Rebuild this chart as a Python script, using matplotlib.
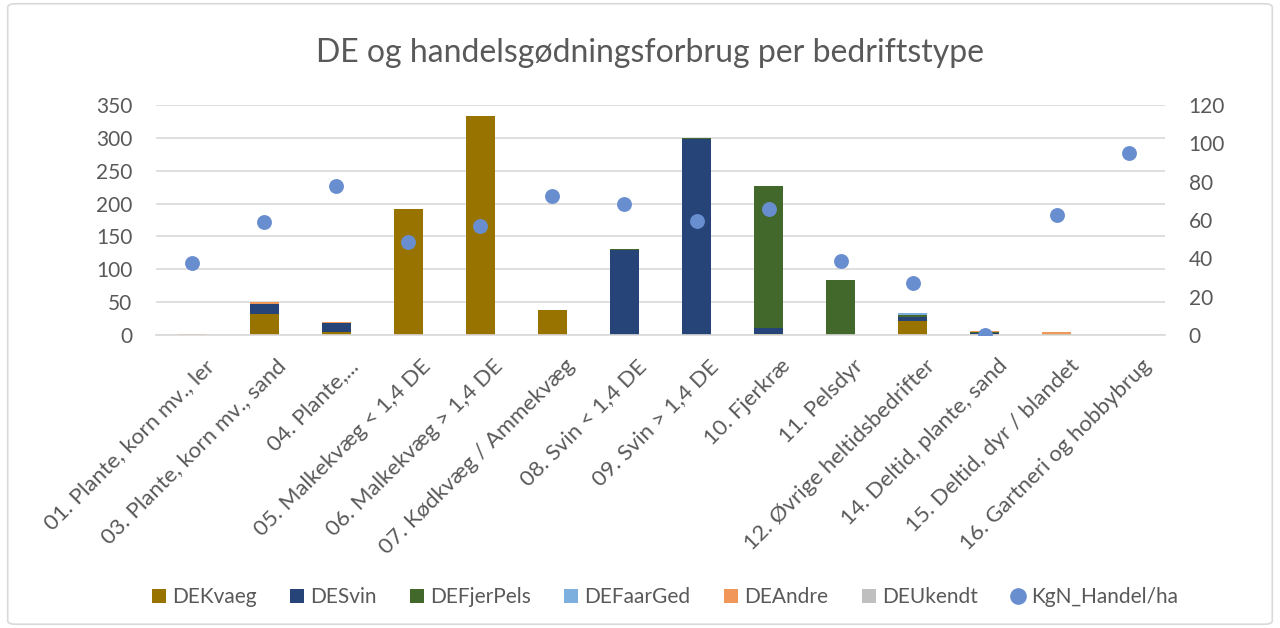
import matplotlib
matplotlib.use("Agg")
import matplotlib.pyplot as plt
import matplotlib.transforms as mtransforms
import numpy as np
from matplotlib.patches import FancyBboxPatch, Patch
from matplotlib.lines import Line2D

plt.rcParams['font.family'] = ['Lato', 'DejaVu Sans']

# categories (bedriftstype)
categories = ["01. Plante, korn mv., ler", "03. Plante, korn mv., sand", "04. Plante,...",
              "05. Malkekvæg < 1,4 DE", "06. Malkekvæg > 1,4 DE", "07. Kødkvæg / Ammekvæg",
              "08. Svin < 1,4 DE", "09. Svin > 1,4 DE", "10. Fjerkræ", "11. Pelsdyr",
              "12. Øvrige heltidsbedrifter", "14. Deltid, plante, sand",
              "15. Deltid, dyr / blandet", "16. Gartneri og hobbybrug"]

# stacked DE per type (left axis)
de_kvaeg = [0, 32, 5, 192, 333, 38, 0, 0, 1, 0, 21, 2, 2, 0]
de_svin = [0, 15, 13, 0, 0, 0, 129, 299, 9, 0, 6, 1, 0, 0]
de_fjerpels = [0, 0.5, 0, 0, 0, 0, 1.5, 1.5, 217, 83, 4, 2, 0, 0]
de_faarged = [0, 0, 0, 0, 0, 0.5, 0, 0, 0, 0, 2, 0, 0, 0]
de_andre = [1, 2.5, 1.5, 0, 0, 0, 0, 0, 0, 0.5, 0, 1, 3, 0]
de_ukendt = [0.5, 0, 0, 0, 0, 0, 0, 0, 0, 0, 0, 0, 0, 0]

# kg N handelsgødning per ha (right axis)
kgn_handel = [37.5, 59.2, 77.5, 48.7, 57.0, 72.5, 68.2, 59.6, 65.7, 38.4, 27.0, 0.0, 62.5, 95.2]

series = [("DEKvaeg", de_kvaeg, "#997300"),
          ("DESvin", de_svin, "#264478"),
          ("DEFjerPels", de_fjerpels, "#43682B"),
          ("DEFaarGed", de_faarged, "#7CAFDD"),
          ("DEAndre", de_andre, "#F1975A"),
          ("DEUkendt", de_ukendt, "#BFBFBF")]
dot_color = "#698ED0"
text_color = "#595959"
fs = 15

fig = plt.figure(figsize=(12.8, 6.28), dpi=100)
ax = fig.add_axes([156/1280, 1 - 335/628, 1009/1280, 230/628])

x = np.arange(len(categories))
bottom = np.zeros(len(categories))
for name, vals, col in series:
    vals = np.array(vals, dtype=float)
    ax.bar(x, vals, 0.4, bottom=bottom, color=col, linewidth=0, label=name, zorder=2)
    bottom += vals

ax.set_xlim(-0.5, len(categories) - 0.5)
ax.set_ylim(0, 350)
ax.set_yticks(np.arange(0, 351, 50))
ax.grid(axis="y", color="#d9d9d9", linewidth=1.2, zorder=0)
ax.set_axisbelow(True)
for sp in ["top", "right", "left"]:
    ax.spines[sp].set_visible(False)
ax.spines["bottom"].set_color("#d9d9d9")
ax.spines["bottom"].set_linewidth(1.2)
ax.tick_params(axis="y", length=0, labelsize=fs, colors=text_color, pad=17)
ax.tick_params(axis="x", length=0, labelsize=16, colors=text_color, pad=15)
ax.set_xticks(x)
ax.set_xticklabels(categories, rotation=45, ha="right", va="top", rotation_mode="anchor")
shift = mtransforms.ScaledTranslation(12/100, 0, fig.dpi_scale_trans)
for lab in ax.get_xticklabels():
    lab.set_transform(lab.get_transform() + shift)

ax2 = ax.twinx()
ax2.scatter(x, kgn_handel, s=115, color=dot_color, linewidths=0, zorder=3, label="KgN_Handel/ha")
ax2.set_ylim(0, 120)
ax2.set_yticks(np.arange(0, 121, 20))
for sp in ax2.spines.values():
    sp.set_visible(False)
ax2.tick_params(axis="y", length=0, labelsize=fs, colors=text_color, pad=17)

fig.text(650/1280, 1 - 53/628, "DE og handelsgødningsforbrug per bedriftstype",
         ha="center", va="center", fontsize=23, color=text_color)

handles = [Patch(facecolor=col, label=name) for name, vals, col in series]
handles.append(Line2D([], [], marker="o", linestyle="", color=dot_color,
                      markersize=11, label="KgN_Handel/ha"))
fig.legend(handles=handles, loc="center", bbox_to_anchor=(665/1280, 1 - 597/628), ncol=7,
           frameon=False, fontsize=fs, handlelength=0.67, handleheight=0.67,
           handletextpad=0.3, columnspacing=1.6, labelcolor=text_color)

border = FancyBboxPatch((0.006, 0.006), 0.988, 0.988, boxstyle="round,pad=0,rounding_size=0.006",
                        transform=fig.transFigure, fill=False, edgecolor="#d9d9d9", linewidth=1.2)
fig.patches.append(border)

fig.savefig("out.png", dpi=100)
